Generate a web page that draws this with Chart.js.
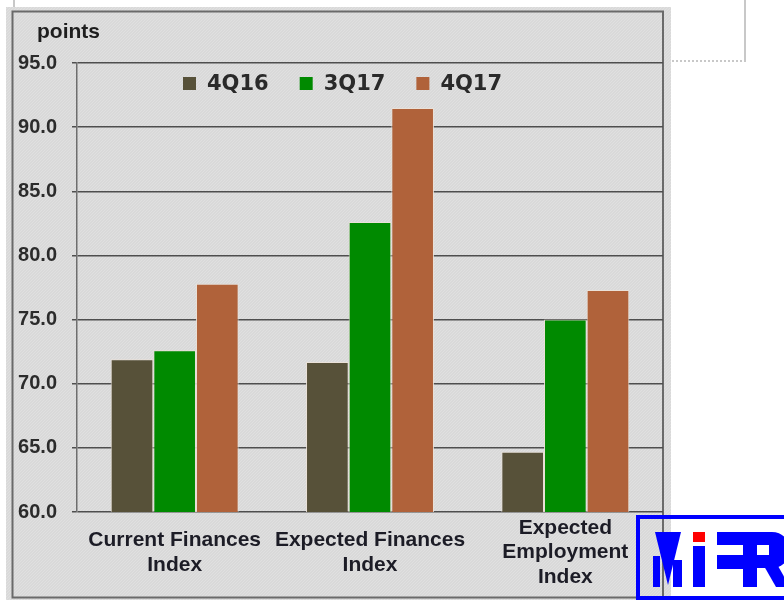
<!DOCTYPE html>
<html>
<head>
<meta charset="utf-8">
<script src="https://cdn.jsdelivr.net/npm/chart.js@4/dist/chart.umd.min.js"></script>
<style>
  html, body { margin: 0; padding: 0; background: #ffffff; }
  #wrap { width: 784px; height: 600px; position: relative; }
  canvas { display: block; }
</style>
</head>
<body>
<div id="wrap"><canvas id="c" width="784" height="600"></canvas></div>
<script>
// ---- Data ----
const categories = [
  ['Current Finances', 'Index'],
  ['Expected Finances', 'Index'],
  ['Expected', 'Employment', 'Index']
];
const seriesNames = ['4Q16', '3Q17', '4Q17'];
const values4Q16 = [71.9, 71.7, 64.7];
const values3Q17 = [72.6, 82.6, 75.0];
const values4Q17 = [77.8, 91.5, 77.3];
const yMin = 60, yMax = 95, yStep = 5;
const yUnitLabel = 'points';

const colors = ['#575139', '#008a00', '#b0623a'];

// ---- Plugins for panel background, legend, unit label and logo ----
const panelPlugin = {
  id: 'panel',
  beforeDraw(chart) {
    const ctx = chart.ctx;
    ctx.save();
    ctx.fillStyle = '#ffffff';
    ctx.fillRect(0, 0, 784, 600);
    // white box behind (top right)
    ctx.strokeStyle = '#c8c8c8';
    ctx.lineWidth = 2;
    ctx.beginPath();
    ctx.moveTo(14, 0); ctx.lineTo(14, 10);
    ctx.moveTo(745, 0); ctx.lineTo(745, 61);
    ctx.stroke();
    ctx.setLineDash([2, 2]);
    ctx.beginPath();
    ctx.moveTo(668, 61); ctx.lineTo(746, 61);
    ctx.stroke();
    ctx.setLineDash([]);
    // gray panel
    ctx.fillStyle = '#d9d9d9';
    ctx.fillRect(6, 7, 665, 593);
    // subtle texture
    ctx.save();
    ctx.beginPath();
    ctx.rect(6, 7, 665, 593);
    ctx.clip();
    ctx.strokeStyle = 'rgba(255,255,255,0.18)';
    ctx.lineWidth = 1;
    ctx.beginPath();
    for (let k = -600; k < 700; k += 3) {
      ctx.moveTo(6 + k, 600); ctx.lineTo(6 + k + 593, 7);
    }
    ctx.stroke();
    ctx.restore();
    // dark border
    ctx.strokeStyle = '#6a6a6a';
    ctx.lineWidth = 2;
    ctx.strokeRect(12.5, 11.5, 650.5, 586);
    ctx.restore();
  },
  afterDraw(chart) {
    const ctx = chart.ctx;
    ctx.save();
    // unit label
    ctx.fillStyle = '#1e1e1e';
    ctx.font = 'bold 21px "Liberation Sans", Arial, sans-serif';
    ctx.textBaseline = 'alphabetic';
    ctx.textAlign = 'left';
    ctx.fillText(yUnitLabel, 37, 38);

    // legend
    ctx.font = 'bold 21px "DejaVu Sans", sans-serif';
    ctx.textBaseline = 'middle';
    let x = 183;
    const yc = 84;
    chart.data.datasets.forEach((ds) => {
      ctx.fillStyle = ds.backgroundColor;
      ctx.fillRect(x, yc - 7, 13, 13);
      x += 13 + 11;
      ctx.fillStyle = '#2a2a2a';
      ctx.fillText(ds.label, x, yc + 1);
      x += ctx.measureText(ds.label).width + 31;
    });

    // logo
    ctx.fillStyle = '#ffffff';
    ctx.fillRect(671, 517, 113, 83);
    ctx.strokeStyle = '#0000ff';
    ctx.lineWidth = 4;
    ctx.beginPath();
    ctx.moveTo(784, 517); ctx.lineTo(638, 517); ctx.lineTo(638, 600);
    ctx.moveTo(638, 598); ctx.lineTo(784, 598);
    ctx.stroke();
    ctx.fillStyle = '#0000ff';
    // M
    ctx.beginPath();
    ctx.moveTo(655, 532); ctx.lineTo(681, 532); ctx.lineTo(668, 585); ctx.closePath();
    ctx.fill();
    ctx.fillRect(653, 556, 7, 31);
    ctx.fillRect(673, 560, 9, 27);
    // i
    ctx.fillStyle = '#ff0000';
    ctx.fillRect(693, 532, 12, 10);
    ctx.fillStyle = '#0000ff';
    ctx.fillRect(693, 546, 12, 41);
    // E
    ctx.fillRect(717, 532, 40, 13);
    ctx.fillRect(717, 555, 40, 14);
    // R
    ctx.fillRect(743, 532, 14, 55);
    ctx.beginPath();
    ctx.moveTo(757, 532); ctx.lineTo(772, 532);
    ctx.arc(772, 550, 18, -Math.PI / 2, Math.PI / 2);
    ctx.lineTo(757, 568); ctx.closePath();
    ctx.fill();
    ctx.beginPath();
    ctx.moveTo(764, 566); ctx.lineTo(778, 566); ctx.lineTo(790, 587); ctx.lineTo(776, 587); ctx.closePath();
    ctx.fill();
    ctx.fillStyle = '#ffffff';
    ctx.fillRect(757, 545, 12, 10);
    ctx.restore();
  }
};

const seriesValues = [values4Q16, values3Q17, values4Q17];

new Chart(document.getElementById('c'), {
  type: 'bar',
  data: {
    labels: categories,
    datasets: seriesNames.map((name, i) => ({
      label: name,
      data: seriesValues[i],
      backgroundColor: colors[i],
      borderColor: 'rgba(235,225,215,0.9)',
      borderWidth: 1,
      barPercentage: 1.0,
      categoryPercentage: 0.655
    }))
  },
  options: {
    responsive: false,
    animation: false,
    devicePixelRatio: 1,
    layout: { padding: { top: 63, right: 121, left: 0, bottom: 0 } },
    plugins: {
      legend: { display: false },
      tooltip: { enabled: false },
      title: { display: false }
    },
    scales: {
      x: {
        grid: { display: false },
        border: { display: false },
        ticks: {
          color: '#1c1c26',
          font: { family: '"Liberation Sans", Arial, sans-serif', size: 21, weight: 'bold', lineHeight: 1.17 },
          padding: 8,
          maxRotation: 0,
          autoSkip: false,
          crossAlign: 'center'
        },
        afterFit(scale) { scale.height = 88; }
      },
      y: {
        min: yMin,
        max: yMax,
        ticks: {
          stepSize: yStep,
          color: '#2b2b2b',
          font: { family: '"Liberation Sans", Arial, sans-serif', size: 20, weight: 'bold' },
          padding: 15,
          callback: (v) => Number(v).toFixed(1)
        },
        grid: { color: '#4e4e4e', lineWidth: 1.5, tickLength: 5, drawTicks: true },
        border: { display: true, color: '#6e6e6e', width: 1.5 },
        afterFit(scale) { scale.width = 77; }
      }
    }
  },
  plugins: [panelPlugin]
});
</script>
</body>
</html>
